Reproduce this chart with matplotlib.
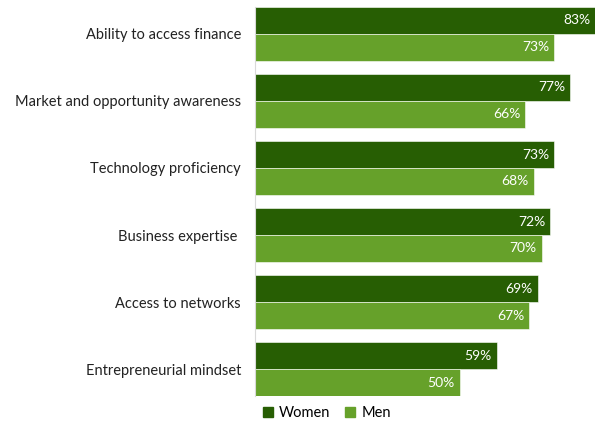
import matplotlib
matplotlib.use("Agg")
import matplotlib.pyplot as plt
from matplotlib.patches import Patch

categories = [
    "Ability to access finance",
    "Market and opportunity awareness",
    "Technology proficiency",
    "Business expertise ",
    "Access to networks",
    "Entrepreneurial mindset",
]
women = [83, 77, 73, 72, 69, 59]
men = [73, 66, 68, 70, 67, 50]

women_color = "#275E03"
men_color = "#66A12A"

plt.rcParams["font.family"] = ["Lato", "DejaVu Sans"]

W, H = 595, 423
fig = plt.figure(figsize=(W / 100, H / 100), dpi=100)
left_px, right_px, top_px, bottom_px = 255, 595, 7, 396
ax = fig.add_axes([left_px / W, 1 - bottom_px / H,
                   (right_px - left_px) / W, (bottom_px - top_px) / H])

n = len(categories)
h = 0.4
centers = [n - 1 - i for i in range(n)]
for c, w, m in zip(centers, women, men):
    ax.barh(c + h / 2, w, height=h, color=women_color, edgecolor="white", linewidth=0.4)
    ax.barh(c - h / 2, m, height=h, color=men_color, edgecolor="white", linewidth=0.4)
    ax.text(w - 1.2, c + h / 2, f"{w}%", color="white", ha="right", va="center", fontsize=10)
    ax.text(m - 1.2, c - h / 2, f"{m}%", color="white", ha="right", va="center", fontsize=10)

ax.set_xlim(0, 83)
ax.set_ylim(-0.4, n - 1 + 0.4)
ax.set_yticks(centers)
ax.set_yticklabels(categories, fontsize=10.5, color="#222222")
ax.tick_params(axis="y", length=0, pad=10)
ax.set_xticks([])
for s in ["top", "right", "bottom"]:
    ax.spines[s].set_visible(False)
ax.spines["left"].set_color("#d9d9d9")
ax.spines["left"].set_linewidth(0.8)

handles = [Patch(color=women_color, label="Women"), Patch(color=men_color, label="Men")]
fig.legend(handles=handles, loc="center left", bbox_to_anchor=(250 / W, 1 - 413 / H),
           ncol=2, frameon=False, fontsize=10.5, handlelength=0.7, handleheight=0.7,
           handletextpad=0.4, columnspacing=1.0)

fig.savefig("out.png", dpi=100)
